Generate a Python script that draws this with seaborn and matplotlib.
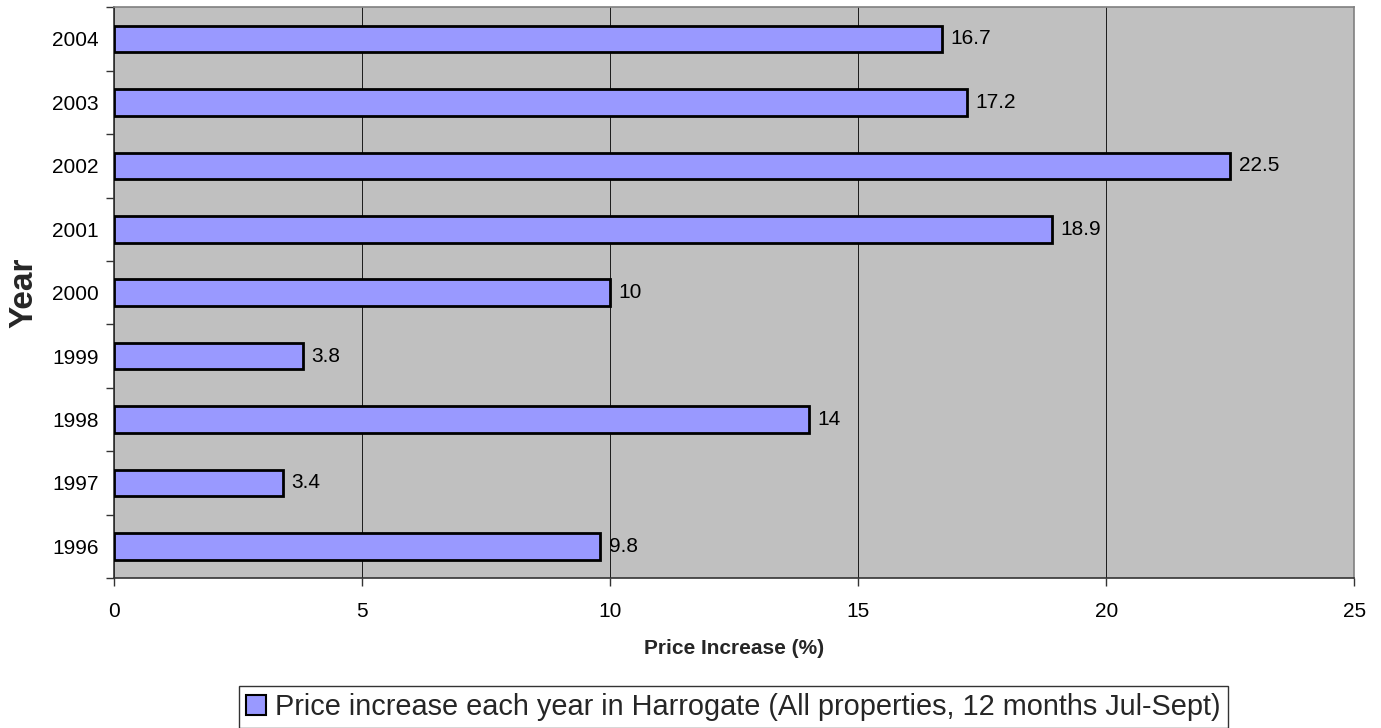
import matplotlib
matplotlib.use("Agg")
import matplotlib.pyplot as plt
from matplotlib.patches import Patch
from matplotlib.ticker import MultipleLocator, FixedLocator
import seaborn as sns
import pandas as pd

years = ["1996", "1997", "1998", "1999", "2000", "2001", "2002", "2003", "2004"]
increase = [9.8, 3.4, 14, 3.8, 10, 18.9, 22.5, 17.2, 16.7]
value_labels = ["9.8", "3.4", "14", "3.8", "10", "18.9", "22.5", "17.2", "16.7"]
series_name = "Price increase each year in Harrogate (All properties, 12 months Jul-Sept)"

sns.set_theme(style="white")
plt.rcParams["font.family"] = ["Liberation Sans", "DejaVu Sans"]

df = pd.DataFrame({"Year": years, "Increase": increase, "Label": value_labels})
order = years[::-1]

fig = plt.figure(figsize=(13.81, 7.28), dpi=100)
ax = fig.add_axes([0.0826, 0.206, 0.898, 0.784])
ax.set_facecolor("#C0C0C0")

sns.barplot(data=df, x="Increase", y="Year", order=order, orient="h",
            color="#9999FF", edgecolor="black", linewidth=2.0,
            width=0.42, saturation=1, ax=ax, zorder=3)

for i, yr in enumerate(order):
    row = df[df["Year"] == yr].iloc[0]
    ax.annotate(row["Label"], xy=(row["Increase"], i), xytext=(6, 0),
                textcoords="offset points", va="center", ha="left",
                fontsize=15, color="black", zorder=4)

ax.set_xlim(0, 25)
ax.set_ylim(len(order) - 0.5, -0.5)
ax.xaxis.set_major_locator(MultipleLocator(5))
ax.grid(axis="x", color="black", linewidth=0.6, zorder=0)
ax.grid(axis="y", visible=False)
ax.set_axisbelow(True)

ax.yaxis.set_minor_locator(FixedLocator([k - 0.5 for k in range(len(order) + 1)]))
ax.tick_params(axis="y", which="major", length=0, pad=11, labelsize=15, colors="black")
ax.tick_params(axis="y", which="minor", length=6, width=1, color="#333333", left=True)
ax.tick_params(axis="x", which="major", length=6, width=1, color="#333333", bottom=True,
               pad=11, labelsize=15, labelcolor="black")

for side in ["top", "right"]:
    ax.spines[side].set_color("#808080")
    ax.spines[side].set_linewidth(1.2)
for side in ["left", "bottom"]:
    ax.spines[side].set_color("#333333")
    ax.spines[side].set_linewidth(1.2)

ax.set_xlabel("Price Increase (%)", fontsize=15, fontweight="bold", labelpad=13)
ax.set_ylabel("Year", fontsize=24, fontweight="bold", labelpad=9)

handle = Patch(facecolor="#9999FF", edgecolor="black", linewidth=1.5)
leg = fig.legend([handle], [series_name], loc="center", bbox_to_anchor=(0.531, 0.029),
                 frameon=True, fontsize=20.8, handlelength=0.7, handleheight=0.7,
                 handletextpad=0.3, borderpad=0.25, borderaxespad=0, fancybox=False)
leg.get_frame().set_edgecolor("black")
leg.get_frame().set_linewidth(1.0)

fig.savefig("out.png", dpi=100)
